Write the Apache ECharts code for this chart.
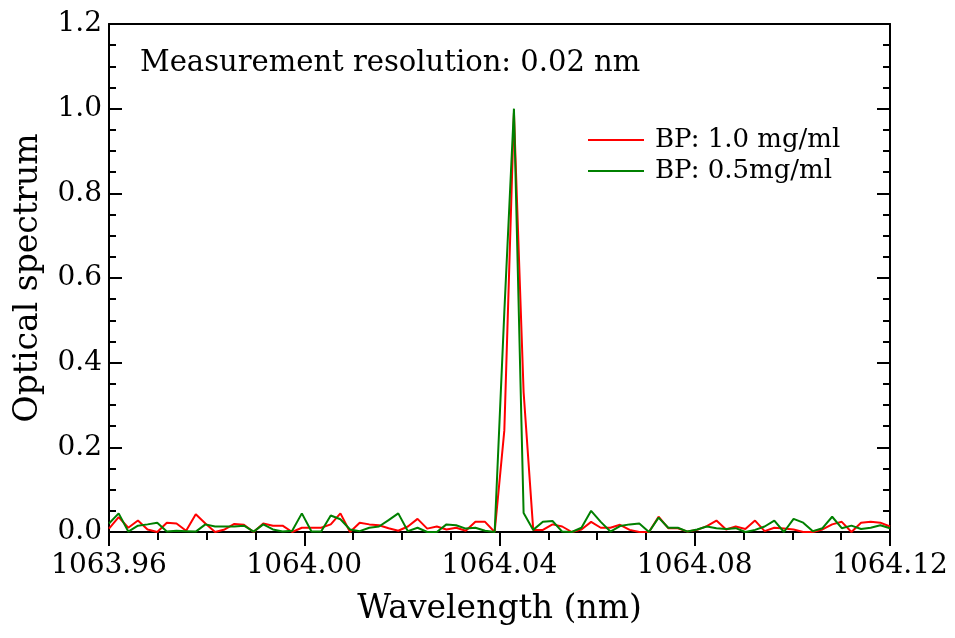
<!DOCTYPE html>
<html>
<head>
<meta charset="utf-8">
<script src="https://cdn.jsdelivr.net/npm/echarts@6/dist/echarts.min.js"></script>
<style>html,body{margin:0;padding:0;background:#fff}#c{width:955px;height:638px}</style>
</head>
<body>
<div id="c"></div>
<script>
const wavelength = [
1063.96000,1063.96198,1063.96395,1063.96593,1063.96790,1063.96988,1063.97185,1063.97383,1063.97580,1063.97778,
1063.97975,1063.98173,1063.98370,1063.98568,1063.98765,1063.98963,1063.99160,1063.99358,1063.99556,1063.99753,
1063.99951,1064.00148,1064.00346,1064.00543,1064.00741,1064.00938,1064.01136,1064.01333,1064.01531,1064.01728,
1064.01926,1064.02123,1064.02321,1064.02519,1064.02716,1064.02914,1064.03111,1064.03309,1064.03506,1064.03704,
1064.03901,1064.04099,1064.04296,1064.04494,1064.04691,1064.04889,1064.05086,1064.05284,1064.05481,1064.05679,
1064.05877,1064.06074,1064.06272,1064.06469,1064.06667,1064.06864,1064.07062,1064.07259,1064.07457,1064.07654,
1064.07852,1064.08049,1064.08247,1064.08444,1064.08642,1064.08840,1064.09037,1064.09235,1064.09432,1064.09630,
1064.09827,1064.10025,1064.10222,1064.10420,1064.10617,1064.10815,1064.11012,1064.11210,1064.11407,1064.11605,
1064.11802,1064.12000
];
const bp10 = [
0.008,0.035,0.010,0.027,0.006,0.000,0.022,0.020,0.003,0.042,
0.020,0.000,0.006,0.019,0.017,0.000,0.020,0.015,0.015,0.000,
0.010,0.010,0.010,0.018,0.044,0.000,0.022,0.018,0.016,0.009,
0.003,0.013,0.031,0.008,0.013,0.006,0.010,0.003,0.024,0.024,
0.000,0.240,0.990,0.330,0.005,0.005,0.018,0.013,0.000,0.006,
0.024,0.010,0.010,0.017,0.005,0.000,0.000,0.036,0.009,0.009,
0.001,0.005,0.014,0.027,0.006,0.013,0.007,0.027,0.002,0.010,
0.008,0.006,0.000,0.000,0.006,0.018,0.024,0.000,0.022,0.024,
0.022,0.013
];
const bp05 = [
0.020,0.044,0.001,0.015,0.018,0.022,0.001,0.003,0.002,0.001,
0.018,0.013,0.013,0.013,0.015,0.001,0.018,0.006,0.001,0.003,
0.044,0.001,0.001,0.039,0.030,0.006,0.002,0.010,0.013,0.028,
0.044,0.002,0.010,0.000,0.000,0.018,0.016,0.008,0.010,0.003,
0.000,0.520,1.000,0.045,0.005,0.024,0.026,0.001,0.000,0.010,
0.050,0.024,0.001,0.014,0.018,0.020,0.000,0.034,0.010,0.010,
0.001,0.006,0.013,0.009,0.007,0.009,0.000,0.005,0.013,0.027,
0.000,0.031,0.022,0.002,0.009,0.036,0.009,0.015,0.007,0.010,
0.016,0.009
];
const seriesNames = ['BP: 1.0 mg/ml', 'BP: 0.5mg/ml'];
const xTitle = 'Wavelength (nm)';
const yTitle = 'Optical spectrum';
const note = 'Measurement resolution: 0.02 nm';

const FONT = 'DejaVu Serif';
const pair = (ys) => wavelength.map((w, i) => [w, ys[i]]);

const chart = echarts.init(document.getElementById('c'), null, {renderer: 'canvas'});
chart.setOption({
  animation: false,
  backgroundColor: '#fff',
  textStyle: {fontFamily: FONT, color: '#000'},
  grid: {left: 109, right: 65, top: 24, bottom: 106, containLabel: false},
  xAxis: [{
    type: 'value', min: 1063.96, max: 1064.12, interval: 0.04,
    name: xTitle, nameLocation: 'middle', nameGap: 61,
    nameTextStyle: {fontFamily: FONT, fontSize: 33, color: '#000'},
    axisLine: {show: true, onZero: false, lineStyle: {color: '#000', width: 2}},
    axisTick: {show: true, inside: false, length: 14, lineStyle: {color: '#000', width: 2}},
    minorTick: {show: true, splitNumber: 4, length: 8, lineStyle: {color: '#000', width: 2}},
    axisLabel: {fontFamily: FONT, fontSize: 28, color: '#000', margin: 20,
      formatter: v => v.toFixed(2)},
    splitLine: {show: false}
  }, {
    type: 'value', position: 'top', min: 1063.96, max: 1064.12, interval: 0.04,
    axisLine: {show: true, onZero: false, lineStyle: {color: '#000', width: 2}},
    axisTick: {show: false}, axisLabel: {show: false}, splitLine: {show: false}
  }],
  yAxis: [{
    type: 'value', min: 0, max: 1.2, interval: 0.2,
    name: yTitle, nameLocation: 'middle', nameGap: 64,
    nameTextStyle: {fontFamily: FONT, fontSize: 33, color: '#000'},
    axisLine: {show: true, onZero: false, lineStyle: {color: '#000', width: 2}},
    axisTick: {show: true, inside: true, length: 13, lineStyle: {color: '#000', width: 2}},
    minorTick: {show: true, splitNumber: 4, length: 7, lineStyle: {color: '#000', width: 2}},
    axisLabel: {fontFamily: FONT, fontSize: 28, color: '#000', margin: 7,
      formatter: v => v.toFixed(1)},
    splitLine: {show: false}
  }, {
    type: 'value', position: 'right', min: 0, max: 1.2, interval: 0.2,
    axisLine: {show: true, onZero: false, lineStyle: {color: '#000', width: 2}},
    axisTick: {show: true, inside: true, length: 13, lineStyle: {color: '#000', width: 2}},
    minorTick: {show: true, splitNumber: 4, length: 7, lineStyle: {color: '#000', width: 2}},
    axisLabel: {show: false}, splitLine: {show: false}
  }],
  legend: {
    orient: 'vertical', left: 583, top: 122, itemWidth: 56, itemHeight: 14, itemGap: 5,
    icon: 'path://M0,6 L56,6 L56,8 L0,8 Z',
    textStyle: {fontFamily: FONT, fontSize: 26, color: '#000', padding: [0, 0, 0, 6]},
    data: seriesNames
  },
  graphic: [{
    type: 'text', left: 140, top: 49,
    style: {text: note, font: '29px "DejaVu Serif"', fill: '#000'}
  }],
  series: [{
    name: seriesNames[0], type: 'line', data: pair(bp10), showSymbol: false, symbol: 'none',
    color: '#ff0000', lineStyle: {color: '#ff0000', width: 2}, clip: true, z: 2
  }, {
    name: seriesNames[1], type: 'line', data: pair(bp05), showSymbol: false, symbol: 'none',
    color: '#008000', lineStyle: {color: '#008000', width: 2}, clip: true, z: 3
  }]
});
</script>
</body>
</html>
